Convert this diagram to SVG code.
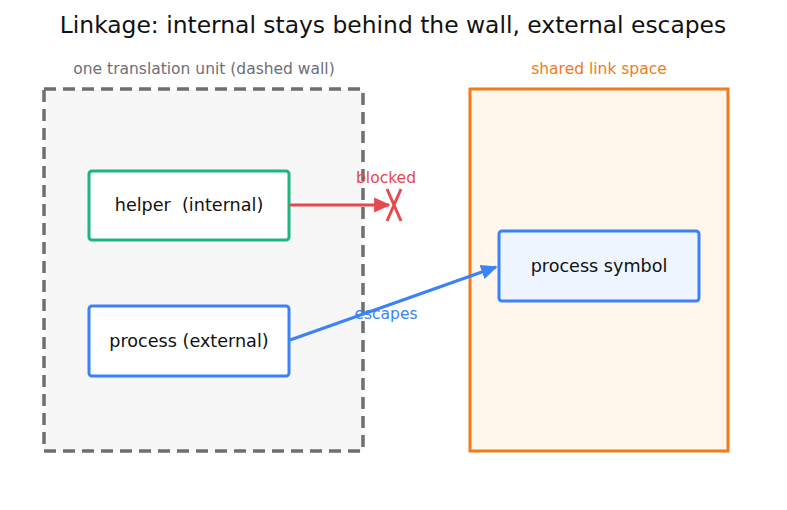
<svg xmlns="http://www.w3.org/2000/svg" width="787" height="510" viewBox="0 0 787 510">
<style>
text{font-family:"DejaVu Sans",sans-serif;}
.title{font-size:23.4px;fill:#111;text-anchor:middle;}
.cap{font-size:15.5px;text-anchor:middle;}
.lbl{font-size:17.6px;fill:#111;text-anchor:middle;}
.node{stroke-width:3;}
</style>
<defs>
<marker id="ar" viewBox="0 0 10 10" refX="9" refY="5" markerWidth="5.5" markerHeight="5.5" orient="auto" markerUnits="strokeWidth"><path d="M0,0.5 L10,5 L0,9.5 z" fill="#e5484d"/></marker>
<marker id="ab" viewBox="0 0 10 10" refX="9" refY="5" markerWidth="5.5" markerHeight="5.5" orient="auto" markerUnits="strokeWidth"><path d="M0,0.5 L10,5 L0,9.5 z" fill="#3b82f6"/></marker>
</defs>
<rect width="787" height="510" fill="#fff"/>
<text class="title" x="393" y="33">Linkage: internal stays behind the wall, external escapes</text>
<g id="tu">
<rect x="44" y="89" width="319" height="362" fill="#f7f7f7" stroke="#6e6e76" stroke-width="3.5" stroke-dasharray="12,7"/>
<text class="cap" x="204" y="74" fill="#6e6e76">one translation unit (dashed wall)</text>
</g>
<g id="link">
<rect x="470" y="89" width="258" height="362" fill="#fff7ec" stroke="#f07b1c" stroke-width="3"/>
<text class="cap" x="599" y="74" fill="#f07b1c">shared link space</text>
</g>
<g id="helper">
<rect class="node" x="89" y="171" width="200" height="69" rx="3" fill="#fff" stroke="#1db57f"/>
<text class="lbl" x="189" y="211" xml:space="preserve">helper  (internal)</text>
</g>
<g id="process">
<rect class="node" x="89" y="306" width="200" height="70" rx="3" fill="#fff" stroke="#3b82f6"/>
<text class="lbl" x="189" y="347">process (external)</text>
</g>
<g id="symbol">
<rect class="node" x="499" y="231" width="200" height="70" rx="3" fill="#eef5ff" stroke="#3b82f6"/>
<text class="lbl" x="599" y="272">process symbol</text>
</g>
<g id="connectors">
<line x1="290" y1="205" x2="389" y2="205" stroke="#e5484d" stroke-width="3" marker-end="url(#ar)"/>
<path d="M387,189 L401,221 M401,189 L387,221" stroke="#e5484d" stroke-width="3" fill="none"/>
<text class="cap" x="386" y="183" fill="#e5484d">blocked</text>
<line x1="290" y1="340" x2="496" y2="267" stroke="#3b82f6" stroke-width="3" marker-end="url(#ab)"/>
<text class="cap" x="386" y="319" fill="#3b82f6">escapes</text>
</g>
</svg>
